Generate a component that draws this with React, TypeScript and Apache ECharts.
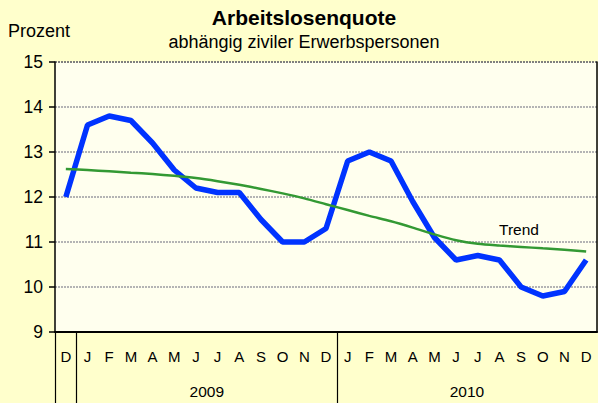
import React, { useEffect, useRef } from "react";
import * as echarts from "echarts";

const categories = ["D", "J", "F", "M", "A", "M", "J", "J", "A", "S", "O", "N", "D", "J", "F", "M", "A", "M", "J", "J", "A", "S", "O", "N", "D"];
const quote = [12.0, 13.6, 13.8, 13.7, 13.2, 12.6, 12.2, 12.1, 12.1, 11.5, 11.0, 11.0, 11.3, 12.8, 13.0, 12.8, 11.9, 11.1, 10.6, 10.7, 10.6, 10.0, 9.8, 9.9, 10.6];
const trend = [12.62, 12.6, 12.57, 12.54, 12.51, 12.47, 12.42, 12.35, 12.27, 12.18, 12.08, 11.97, 11.84, 11.71, 11.58, 11.46, 11.32, 11.17, 11.04, 10.96, 10.92, 10.89, 10.86, 10.83, 10.79];
const years = ["2009", "2010"];
const yearCenters = [7, 19];
const yearSeparators = [0, 1, 13];
const yMin = 9;
const yMax = 15;

export default function App() {
  const ref = useRef<HTMLDivElement>(null);
  useEffect(() => {
    document.body.style.margin = "0";
    const chart = echarts.init(ref.current!, null, { renderer: "svg" });
    const font = "Arial, 'Liberation Sans', sans-serif";
    const gridColors = ["#b4b4b4", "#b4b4b4", "#b4b4b4", "#b4b4b4", "#b4b4b4", "#b4b4b4", "#808080"];
    chart.setOption({
      animation: false,
      backgroundColor: "#FFFFCC",
      textStyle: { fontFamily: font },
      grid: { left: 55, right: 1, top: 62, bottom: 71, show: true, backgroundColor: "#FFFFEE", borderWidth: 0 },
      graphic: [
        { type: "text", x: 304, y: 17, style: { text: "Arbeitslosenquote", font: `bold 21px ${font}`, fill: "#000", textAlign: "center", textVerticalAlign: "middle" } },
        { type: "text", x: 304, y: 42, style: { text: "abhängig ziviler Erwerbspersonen", font: `18px ${font}`, fill: "#000", textAlign: "center", textVerticalAlign: "middle" } },
        { type: "text", x: 8, y: 31, style: { text: "Prozent", font: `18px ${font}`, fill: "#000", textAlign: "left", textVerticalAlign: "middle" } },
        { type: "text", x: 519, y: 229, style: { text: "Trend", font: `15.5px ${font}`, fill: "#000", textAlign: "center", textVerticalAlign: "middle" } },
      ],
      xAxis: [
        {
          type: "category",
          data: categories,
          boundaryGap: true,
          axisLine: { lineStyle: { color: "#000", width: 2 } },
          axisTick: { show: false },
          axisLabel: { interval: 0, fontSize: 15, color: "#000", margin: 17 },
          splitLine: { show: false },
        },
        {
          type: "value",
          min: 0,
          max: categories.length,
          position: "bottom",
          axisLine: { show: false },
          splitLine: { show: false },
          axisTick: { show: true, customValues: yearSeparators, length: 71, lineStyle: { color: "#000", width: 1.2 } },
          axisLabel: {
            customValues: yearCenters,
            formatter: (v: number) => years[yearCenters.indexOf(v)] ?? "",
            fontSize: 15.5,
            color: "#000",
            margin: 51,
          },
        },
      ],
      yAxis: [
        {
          type: "value",
          min: yMin,
          max: yMax,
          interval: 1,
          axisLine: { show: true, lineStyle: { color: "#000", width: 1.5 } },
          axisTick: { show: true, length: 6, lineStyle: { color: "#000", width: 1.5 } },
          axisLabel: { fontSize: 17.5, color: "#000", margin: 12 },
          splitLine: { show: true, lineStyle: { color: gridColors, width: 2, type: [2, 1] } },
        },
        {
          type: "value",
          min: yMin,
          max: yMax,
          interval: 1,
          position: "right",
          axisLine: { show: true, lineStyle: { color: "#000", width: 1.5 } },
          axisTick: { show: false },
          axisLabel: { show: false },
          splitLine: { show: false },
        },
      ],
      series: [
        {
          name: "Arbeitslosenquote",
          type: "line",
          data: quote,
          xAxisIndex: 0,
          yAxisIndex: 0,
          symbol: "none",
          lineStyle: { color: "#0033FF", width: 5.5 },
          z: 3,
        },
        {
          name: "Trend",
          type: "line",
          data: trend,
          xAxisIndex: 0,
          yAxisIndex: 0,
          symbol: "none",
          smooth: 0.3,
          lineStyle: { color: "#339933", width: 2.5 },
          z: 4,
        },
      ],
    });
    return () => chart.dispose();
  }, []);
  return <div ref={ref} style={{ position: "fixed", left: 0, top: 0, width: 598, height: 403 }} />;
}
